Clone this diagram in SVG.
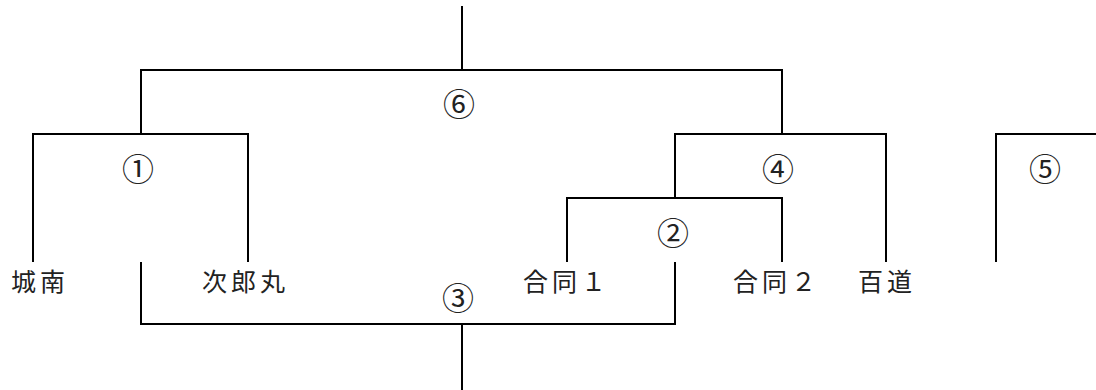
<svg xmlns="http://www.w3.org/2000/svg" width="1096" height="390" viewBox="0 0 1096 390">
<style>
.ln{fill:none;stroke:#000;stroke-width:2;stroke-linecap:butt;stroke-linejoin:miter}
.t{font-family:"Noto Sans CJK JP","Noto Sans CJK SC",sans-serif;font-size:25px;letter-spacing:4px;fill:#222;dominant-baseline:central}
.n{font-family:"Noto Sans CJK JP","Noto Sans CJK SC",sans-serif;font-size:32px;fill:#222;text-anchor:middle;dominant-baseline:central}
</style>
<rect width="1096" height="390" fill="#fff"/>
<g id="connectors">
<path class="ln" d="M462,6 V70"/>
<path class="ln" d="M141,134 V70 H782 V134"/>
<path class="ln" d="M33,262 V134 H248 V262"/>
<path class="ln" d="M675,198 V134 H886 V262"/>
<path class="ln" d="M567,262 V198 H782 V262"/>
<path class="ln" d="M141,262 V324 H675 V262"/>
<path class="ln" d="M462,324 V390"/>
<path class="ln" d="M996,262 V134 H1097"/>
</g>
<g id="team-jonan"><text class="t" x="11" y="280">城南</text></g>
<g id="team-jiromaru"><text class="t" x="202" y="280">次郎丸</text></g>
<g id="team-godo1"><text class="t" x="523" y="280">合同１</text></g>
<g id="team-godo2"><text class="t" x="733" y="280">合同２</text></g>
<g id="team-momochi"><text class="t" x="858" y="280">百道</text></g>
<g id="match1"><text class="n" x="138" y="167">①</text></g>
<g id="match2"><text class="n" x="673" y="231">②</text></g>
<g id="match3"><text class="n" x="458" y="296">③</text></g>
<g id="match4"><text class="n" x="778" y="167">④</text></g>
<g id="match5"><text class="n" x="1045" y="167">⑤</text></g>
<g id="match6"><text class="n" x="459" y="102">⑥</text></g>
</svg>
